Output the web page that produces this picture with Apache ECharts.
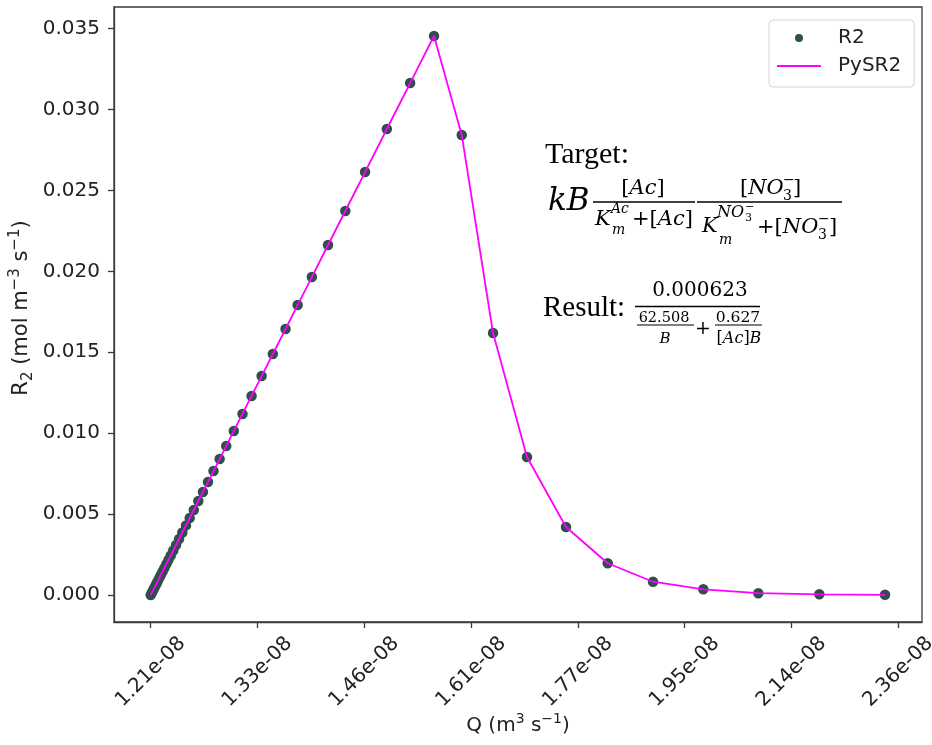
<!DOCTYPE html>
<html>
<head>
<meta charset="utf-8">
<script src="https://cdn.jsdelivr.net/npm/echarts/dist/echarts.min.js"></script>
<style>html,body{margin:0;padding:0;background:#fff}#c{width:932px;height:745px}</style>
</head>
<body>
<div id="c"></div>
<script>
// ---- data ----
const qValues = [
  1.2090e-8, 1.2101e-8, 1.2112e-8, 1.2125e-8, 1.2140e-8, 1.2153e-8, 1.2167e-8, 1.2183e-8,
  1.2200e-8, 1.2219e-8, 1.2239e-8, 1.2261e-8, 1.2283e-8, 1.2308e-8, 1.2336e-8, 1.2367e-8,
  1.2400e-8, 1.2436e-8, 1.2477e-8, 1.2518e-8, 1.2564e-8, 1.2615e-8, 1.2667e-8, 1.2724e-8,
  1.2787e-8, 1.2857e-8, 1.2933e-8, 1.3021e-8, 1.3122e-8, 1.3229e-8, 1.3348e-8, 1.3482e-8,
  1.3636e-8, 1.3784e-8, 1.3960e-8, 1.4163e-8, 1.4383e-8, 1.4639e-8, 1.4926e-8, 1.5240e-8,
  1.5568e-8, 1.5958e-8, 1.6410e-8, 1.6915e-8, 1.7514e-8, 1.8178e-8, 1.8928e-8, 1.9797e-8,
  2.0793e-8, 2.1957e-8, 2.3283e-8
];
const r2Values = [
  0.00000, 0.00012, 0.00025, 0.00040, 0.00056, 0.00071, 0.00087, 0.00105,
  0.00124, 0.00145, 0.00167, 0.00192, 0.00216, 0.00244, 0.00275, 0.00309,
  0.00346, 0.00386, 0.00430, 0.00476, 0.00525, 0.00581, 0.00637, 0.00698,
  0.00766, 0.00840, 0.00921, 0.01014, 0.01119, 0.01230, 0.01353, 0.01489,
  0.01644, 0.01792, 0.01965, 0.02163, 0.02373, 0.02614, 0.02880, 0.03164,
  0.03455, 0.02843, 0.01619, 0.00853, 0.00420, 0.00196, 0.00082, 0.00035,
  0.00011, 0.00004, 0.00001
];
const pysr2Values = [
  0.00000, 0.00012, 0.00025, 0.00040, 0.00056, 0.00071, 0.00087, 0.00105,
  0.00124, 0.00145, 0.00167, 0.00192, 0.00216, 0.00244, 0.00275, 0.00309,
  0.00346, 0.00386, 0.00430, 0.00476, 0.00525, 0.00581, 0.00637, 0.00698,
  0.00766, 0.00840, 0.00921, 0.01014, 0.01119, 0.01230, 0.01353, 0.01489,
  0.01644, 0.01792, 0.01965, 0.02163, 0.02373, 0.02614, 0.02880, 0.03164,
  0.03455, 0.02843, 0.01619, 0.00853, 0.00420, 0.00196, 0.00082, 0.00035,
  0.00011, 0.00004, 0.00001
];
const xTickValues = [1.209e-8, 1.3299e-8, 1.46289e-8, 1.609179e-8, 1.770097e-8, 1.947107e-8, 2.141817e-8, 2.355999e-8];
const yTickValues = [0, 0.005, 0.010, 0.015, 0.020, 0.025, 0.030, 0.035];
const seriesNames = ['R2', 'PySR2'];

// ---- chart ----
const AX = '#3a3a3a';
const SERIF = 'DejaVu Serif';
const SANS = 'DejaVu Sans';
function richSet(size) {
  return {
    u: {fontSize: size, fontFamily: SERIF, fontStyle: 'normal', fill: '#000'},
    i: {fontSize: size, fontFamily: SERIF, fontStyle: 'italic', fill: '#000'}
  };
}
function T(x, y, text, size, o) {
  o = o || {};
  return {
    type: 'text', x: x, y: y, silent: true, z: 10,
    style: {
      text: text, fontSize: size, fontFamily: o.family || SERIF,
      fontStyle: o.italic ? 'italic' : 'normal', fill: o.fill || '#000',
      align: o.align || 'left', verticalAlign: 'middle',
      rich: o.rich ? richSet(size) : undefined
    }
  };
}
function H(x1, x2, y, w) {
  return {type: 'line', silent: true, z: 10, shape: {x1: x1, y1: y, x2: x2, y2: y},
          style: {stroke: '#000', lineWidth: w || 1.3}};
}
function axisNameRich(size, supSize) {
  return {
    n: {fontSize: size, fontFamily: SANS, fill: '#222', lineHeight: 28},
    sup: {fontSize: supSize, fontFamily: SANS, fill: '#222', lineHeight: 14, verticalAlign: 'top'},
    sub: {fontSize: supSize, fontFamily: SANS, fill: '#222', lineHeight: 20, verticalAlign: 'bottom'}
  };
}

const annotations = [
  // Target
  T(545, 155, 'Target:', 30, {family: 'Liberation Serif'}),
  T(548, 202, 'kB', 31, {italic: true}),
  T(643, 189, '{u|[}{i|Ac}{u|]}', 21, {align: 'center', rich: true}),
  H(593, 695, 202),
  T(595, 220, 'K', 21, {italic: true}),
  T(611, 209, 'Ac', 14, {italic: true}),
  T(612, 230, 'm', 14, {italic: true}),
  T(632, 220, '{u|+[}{i|Ac}{u|]}', 21, {rich: true}),
  T(740, 189, '{u|[}{i|NO}', 21, {rich: true}),
  T(783, 196, '3', 14),
  T(783, 180, '\u2212', 14),
  T(793, 189, ']', 21),
  H(697, 842, 202),
  T(702, 227, 'K', 21, {italic: true}),
  T(717, 213, 'NO', 16, {italic: true}),
  T(745, 218, '3', 11),
  T(745, 207, '\u2212', 11),
  T(719, 240, 'm', 14, {italic: true}),
  T(757, 228, '{u|+[}{i|NO}', 21, {rich: true}),
  T(818, 235, '3', 14),
  T(818, 219, '\u2212', 14),
  T(829, 228, ']', 21),
  // Result
  T(543, 308, 'Result:', 29, {family: 'Liberation Serif'}),
  T(700, 291, '0.000623', 20, {align: 'center'}),
  H(635, 760, 306.5),
  T(664, 318, '62.508', 14.5, {align: 'center'}),
  H(637, 694, 325, 1.1),
  T(665, 339, 'B', 15, {italic: true, align: 'center'}),
  T(703, 329, '+', 19, {align: 'center'}),
  T(738, 318, '0.627', 15.5, {align: 'center'}),
  H(715, 762, 325, 1.1),
  T(739, 339, '{u|[}{i|Ac}{u|]}{i|B}', 16, {align: 'center', rich: true}),
  // axis names
  {
    type: 'text', x: 518, y: 726, silent: true, z: 10,
    style: {text: '{n|Q (m}{sup|3}{n| s}{sup|\u22121}{n|)}', rich: axisNameRich(20, 14),
            align: 'center', verticalAlign: 'middle'}
  },
  {
    type: 'text', x: 22, y: 308, rotation: Math.PI / 2, silent: true, z: 10,
    style: {text: '{n|R}{sub|2}{n| (mol m}{sup|\u22123}{n| s}{sup|\u22121}{n|)}', rich: axisNameRich(21, 15),
            align: 'center', verticalAlign: 'middle'}
  }
];

const chart = echarts.init(document.getElementById('c'), null, {renderer: 'canvas'});
chart.setOption({
  animation: false,
  backgroundColor: '#fff',
  grid: {left: 114, right: 10, top: 7, bottom: 123, show: true, borderColor: AX, borderWidth: 1.3,
         backgroundColor: 'transparent', containLabel: false, outerBoundsMode: 'none'},
  legend: {
    data: [{name: seriesNames[0]}, {name: seriesNames[1], itemStyle: {opacity: 0}}],
    orient: 'vertical', left: 769, top: 20, padding: [8, 13, 11, 7],
    itemWidth: 44, itemHeight: 8, itemGap: 8, backgroundColor: '#fff', borderColor: '#d4d4d4',
    borderWidth: 1, borderRadius: 4,
    textStyle: {fontSize: 20, fontFamily: SANS, color: '#222', padding: [0, 0, 0, 12]}
  },
  xAxis: {
    type: 'log', logBase: 10, min: 1.17004e-8, max: 2.4064e-8,
    axisLine: {show: true, onZero: false, lineStyle: {color: AX, width: 1.3}},
    axisTick: {show: true, customValues: xTickValues, length: 6, lineStyle: {color: AX, width: 1.3}},
    axisLabel: {
      customValues: xTickValues, rotate: 45, align: 'center', verticalAlign: 'middle', margin: 50,
      fontSize: 20, fontFamily: SANS, color: '#222', hideOverlap: false,
      formatter: function (v) { return v.toExponential(2).replace(/e([+-])(\d)$/, 'e$10$2'); }
    },
    splitLine: {show: false}, minorTick: {show: false}
  },
  yAxis: {
    type: 'value', min: -0.00167, max: 0.03634,
    axisLine: {show: true, onZero: false, lineStyle: {color: AX, width: 1.3}},
    axisTick: {show: true, customValues: yTickValues, length: 6, lineStyle: {color: AX, width: 1.3}},
    axisLabel: {
      customValues: yTickValues, margin: 14, fontSize: 20, fontFamily: SANS, color: '#222',
      formatter: function (v) { return v.toFixed(3); }
    },
    splitLine: {show: false}
  },
  series: [
    {
      name: seriesNames[0], type: 'scatter', z: 2,
      data: qValues.map(function (q, i) { return [q, r2Values[i]]; }),
      symbol: 'circle', symbolSize: 10.5, itemStyle: {color: '#2f4f4f', opacity: 1}
    },
    {
      name: seriesNames[1], type: 'line', z: 3,
      data: qValues.map(function (q, i) { return [q, pysr2Values[i]]; }),
      symbol: 'none', lineStyle: {color: '#ff00ff', width: 1.8}, itemStyle: {color: '#ff00ff'}
    }
  ],
  graphic: annotations
});
</script>
</body>
</html>
